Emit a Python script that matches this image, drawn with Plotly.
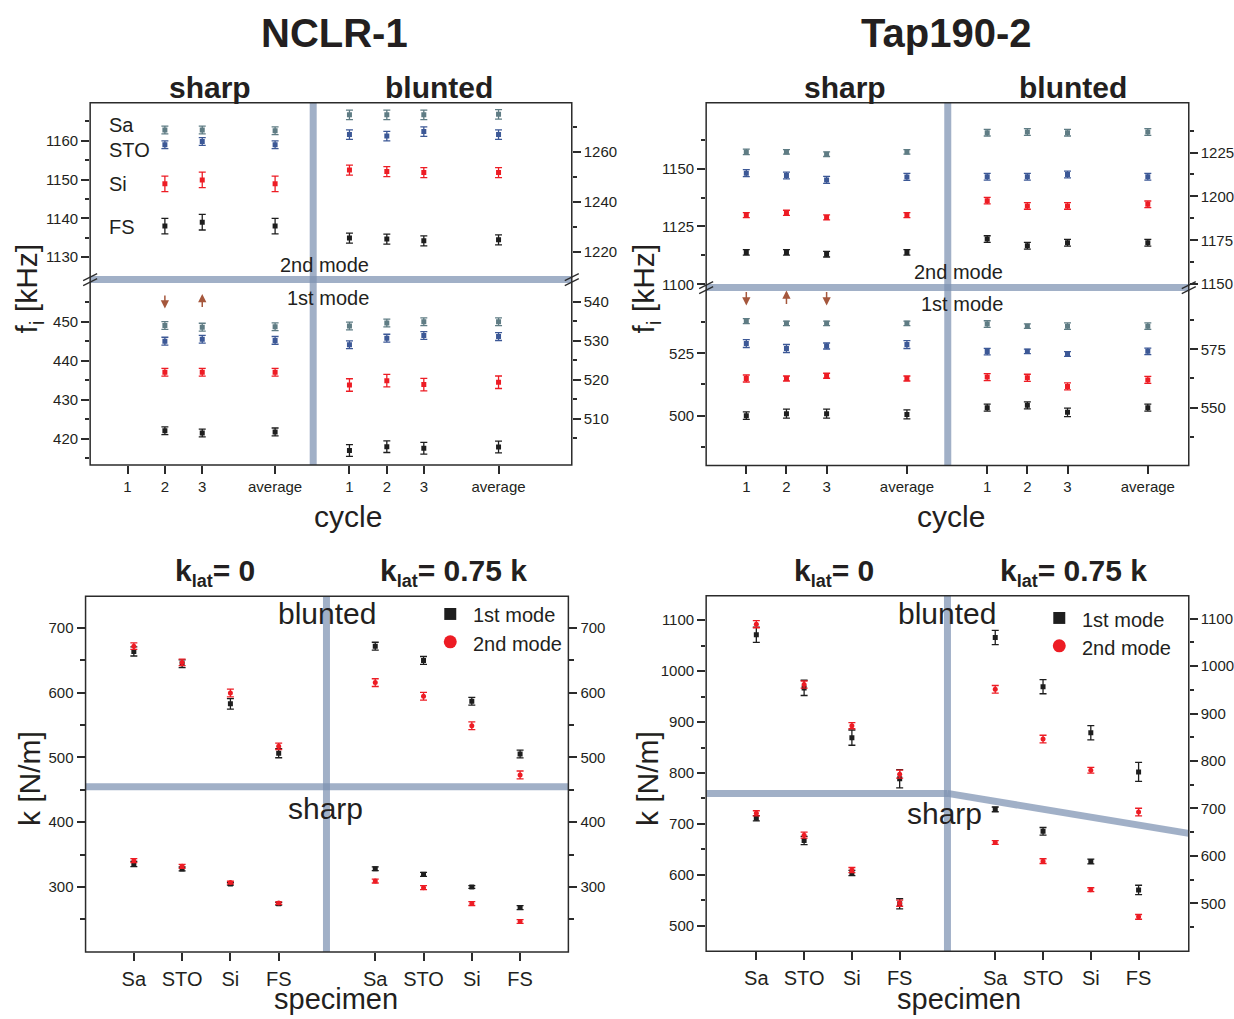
import plotly.graph_objects as go

W, H = 1234, 1019
FONT = "Liberation Sans, Arial, Helvetica, sans-serif"
TXT = "#231f20"
AX = "#2b2b2b"
DIV = "rgba(125,146,177,0.72)"
ARROW = "#a5573c"

# ---------------- data ----------------
SPECIMENS = ["Sa", "STO", "Si", "FS"]
CYCLES = ["1", "2", "3", "average"]
SPEC_COLORS = ["#5f7c84", "#3c5896", "#ed1c24", "#1e1e1e"]
MODE_COLORS = ["#1e1e1e", "#ed1c24"]
MODE_SYMBOLS = ["square", "circle"]
MODE_NAMES = ["1st mode", "2nd mode"]

# NCLR-1 resonance frequencies [kHz]; rows Sa, STO, Si, FS; cols cycle 1, 2, 3, average
nclr_m2_sharp = [[None, 1162.8, 1162.8, 1162.6], [None, 1159.0, 1159.8, 1159.0],
                 [None, 1148.9, 1149.9, 1148.9], [None, 1138.0, 1139.0, 1138.0]]
nclr_m2_sharp_err = [[0, 1.0, 1.0, 1.0], [0, 1.0, 1.0, 1.0], [0, 2.0, 2.0, 2.0], [0, 2.0, 2.0, 2.0]]
nclr_m2_blunt = [[1274.9, 1274.9, 1274.9, 1275.1], [1267.0, 1266.4, 1268.2, 1267.0],
                 [1252.8, 1252.2, 1251.8, 1251.8], [1225.6, 1225.2, 1224.5, 1224.9]]
nclr_m2_blunt_err = [[1.9, 1.9, 1.9, 1.9], [1.9, 1.9, 1.9, 1.9], [2.0, 2.0, 2.0, 2.0], [2.0, 2.0, 2.0, 2.0]]
nclr_m1_sharp = [[None, 449.0, 448.6, 448.7], [None, 445.0, 445.5, 445.2],
                 [None, 437.0, 437.0, 437.0], [None, 422.0, 421.4, 421.7]]
nclr_m1_sharp_err = [[0, 1.0, 1.0, 1.0], [0, 1.0, 1.0, 1.0], [0, 1.0, 1.0, 1.0], [0, 1.0, 1.0, 1.0]]
nclr_m1_blunt = [[533.8, 534.6, 534.9, 534.9], [529.0, 530.7, 531.4, 531.1],
                 [518.7, 519.8, 518.8, 519.4], [501.9, 502.9, 502.5, 502.8]]
nclr_m1_blunt_err = [[1.0, 1.0, 1.0, 1.0], [1.0, 1.0, 1.0, 1.0], [1.6, 1.6, 1.6, 1.6], [1.5, 1.5, 1.5, 1.5]]

# Tap190-2 resonance frequencies [kHz]
tap_m2_sharp = [[1157.2, 1157.2, 1156.2, 1157.2], [1148.0, 1147.0, 1145.1, 1146.4],
                [1129.9, 1130.9, 1128.9, 1129.9], [1113.8, 1113.8, 1113.0, 1113.8]]
tap_m2_sharp_err = [[1.2, 1.0, 1.0, 1.0], [1.5, 1.5, 1.5, 1.5], [1.1, 1.1, 1.1, 1.1], [1.2, 1.2, 1.2, 1.2]]
tap_m2_blunt = [[1236.3, 1236.7, 1236.3, 1236.7], [1211.2, 1211.2, 1212.5, 1211.2],
                [1197.6, 1194.6, 1194.6, 1195.5], [1175.7, 1171.9, 1173.6, 1173.6]]
tap_m2_blunt_err = [[1.9, 1.9, 1.9, 1.9], [1.9, 1.9, 1.9, 1.9], [1.9, 1.9, 1.9, 1.9], [1.9, 1.9, 1.9, 1.9]]
tap_m1_sharp = [[537.9, 537.0, 537.0, 537.0], [528.9, 526.9, 527.9, 528.5],
                [514.9, 514.9, 516.0, 514.9], [500.0, 500.8, 500.8, 500.5]]
tap_m1_sharp_err = [[1.0, 0.9, 0.9, 0.9], [1.6, 1.6, 1.2, 1.6], [1.4, 1.0, 1.0, 1.0], [1.5, 1.8, 1.8, 1.8]]
tap_m1_blunt = [[585.8, 584.9, 584.9, 584.9], [574.0, 574.1, 573.0, 574.1],
                [563.1, 562.8, 559.1, 561.9], [550.0, 551.0, 548.0, 550.0]]
tap_m1_blunt_err = [[1.4, 1.0, 1.4, 1.4], [1.4, 1.0, 1.0, 1.4], [1.5, 1.5, 1.5, 1.5], [1.5, 1.5, 1.8, 1.5]]

# arrows marking cycles (cycle index, +1 = up, -1 = down)
nclr_arrows = [(2, -1), (3, 1)]
tap_arrows = [(1, -1), (2, 1), (3, -1)]

# spring constants k [N/m]; order Sa, STO, Si, FS
nclr_k0_blunt_m1 = [663.6, 644.7, 582.7, 506.5]
nclr_k0_blunt_m1_err = [7, 6, 8, 7]
nclr_k0_blunt_m2 = [671.8, 646.7, 599.6, 517.2]
nclr_k0_blunt_m2_err = [5, 5, 6, 5]
nclr_k0_sharp_m1 = [335.4, 327.8, 304.7, 274.0]
nclr_k0_sharp_m1_err = [4, 3, 2, 2]
nclr_k0_sharp_m2 = [340.6, 331.8, 306.8, 275.0]
nclr_k0_sharp_m2_err = [3, 3, 2, 2]
nclr_k75_blunt_m1 = [671.8, 649.8, 586.8, 505.3]
nclr_k75_blunt_m1_err = [6, 6, 6, 6]
nclr_k75_blunt_m2 = [615.5, 594.5, 548.9, 473.0]
nclr_k75_blunt_m2_err = [6, 6, 6, 6]
nclr_k75_sharp_m1 = [328.1, 319.4, 299.9, 268.1]
nclr_k75_sharp_m1_err = [3, 3, 2, 3]
nclr_k75_sharp_m2 = [309.1, 298.9, 274.3, 246.6]
nclr_k75_sharp_m2_err = [3, 3, 3, 3]

tap_k0_blunt_m1 = [1071.3, 967.1, 869.4, 788.6]
tap_k0_blunt_m1_err = [15, 15, 15, 18]
tap_k0_blunt_m2 = [1092.2, 973.6, 892.8, 797.7]
tap_k0_blunt_m2_err = [7, 7, 6, 8]
tap_k0_sharp_m1 = [711.1, 667.4, 603.6, 543.0]
tap_k0_sharp_m1_err = [5, 8, 5, 10]
tap_k0_sharp_m2 = [720.8, 677.9, 609.4, 544.3]
tap_k0_sharp_m2_err = [5, 6, 5, 6]
tap_k75_blunt_m1 = [1060.1, 956.6, 859.4, 776.9]
tap_k75_blunt_m1_err = [15, 15, 15, 20]
tap_k75_blunt_m2 = [951.0, 846.2, 780.4, 692.3]
tap_k75_blunt_m2_err = [8, 8, 6, 8]
tap_k75_sharp_m1 = [697.9, 651.7, 588.1, 528.0]
tap_k75_sharp_m1_err = [5, 8, 5, 10]
tap_k75_sharp_m2 = [628.0, 588.8, 528.7, 471.3]
tap_k75_sharp_m2_err = [4, 5, 4, 5]

# ---------------- category positions on the axes ----------------
NCLR_X_SHARP = [1, 2, 3, 4.95]
NCLR_X_BLUNT = [6.94, 7.94, 8.93, 10.93]
TAP_X_SHARP = [1, 2, 3, 5]
TAP_X_BLUNT = [7, 8, 9, 11]
K_X_LEFT = [1, 2, 3, 4]
K_X_RIGHT = [6, 7, 8, 9]


def fx(p):
    return p / W


def fy(p):
    return 1 - p / H


fig = go.Figure()


def add_err(xa, ya, xs, ys, errs, color, symbol="square"):
    fig.add_trace(go.Scatter(
        x=xs, y=ys, xaxis=xa, yaxis=ya, mode="markers",
        marker=dict(color=color, size=5, symbol=symbol, line=dict(width=0)),
        error_y=dict(type="data", array=errs, visible=True, color=color, thickness=1.3, width=3.5),
        showlegend=False, hoverinfo="x+y"))


# top panels
for xa, (yul, yll, yur, ylr), xs_s, xs_b, sets in [
    ("x", ("y", "y2", "y3", "y4"), NCLR_X_SHARP, NCLR_X_BLUNT,
     (nclr_m2_sharp, nclr_m2_sharp_err, nclr_m2_blunt, nclr_m2_blunt_err,
      nclr_m1_sharp, nclr_m1_sharp_err, nclr_m1_blunt, nclr_m1_blunt_err)),
    ("x2", ("y5", "y6", "y7", "y8"), TAP_X_SHARP, TAP_X_BLUNT,
     (tap_m2_sharp, tap_m2_sharp_err, tap_m2_blunt, tap_m2_blunt_err,
      tap_m1_sharp, tap_m1_sharp_err, tap_m1_blunt, tap_m1_blunt_err)),
]:
    m2s, m2se, m2b, m2be, m1s, m1se, m1b, m1be = sets
    for i, col in enumerate(SPEC_COLORS):
        add_err(xa, yul, xs_s, m2s[i], m2se[i], col)
        add_err(xa, yur, xs_b, m2b[i], m2be[i], col)
        add_err(xa, yll, xs_s, m1s[i], m1se[i], col)
        add_err(xa, ylr, xs_b, m1b[i], m1be[i], col)

# bottom panels
for xa, yl, yr, sets in [
    ("x3", "y9", "y10", [
        (nclr_k0_blunt_m1, nclr_k0_blunt_m1_err, nclr_k0_sharp_m1, nclr_k0_sharp_m1_err,
         nclr_k75_blunt_m1, nclr_k75_blunt_m1_err, nclr_k75_sharp_m1, nclr_k75_sharp_m1_err),
        (nclr_k0_blunt_m2, nclr_k0_blunt_m2_err, nclr_k0_sharp_m2, nclr_k0_sharp_m2_err,
         nclr_k75_blunt_m2, nclr_k75_blunt_m2_err, nclr_k75_sharp_m2, nclr_k75_sharp_m2_err)]),
    ("x4", "y11", "y12", [
        (tap_k0_blunt_m1, tap_k0_blunt_m1_err, tap_k0_sharp_m1, tap_k0_sharp_m1_err,
         tap_k75_blunt_m1, tap_k75_blunt_m1_err, tap_k75_sharp_m1, tap_k75_sharp_m1_err),
        (tap_k0_blunt_m2, tap_k0_blunt_m2_err, tap_k0_sharp_m2, tap_k0_sharp_m2_err,
         tap_k75_blunt_m2, tap_k75_blunt_m2_err, tap_k75_sharp_m2, tap_k75_sharp_m2_err)]),
]:
    for m, s in enumerate(sets):
        b0, b0e, s0, s0e, b7, b7e, s7, s7e = s
        col, sym = MODE_COLORS[m], MODE_SYMBOLS[m]
        add_err(xa, yl, K_X_LEFT, b0, b0e, col, sym)
        add_err(xa, yl, K_X_LEFT, s0, s0e, col, sym)
        add_err(xa, yr, K_X_RIGHT, b7, b7e, col, sym)
        add_err(xa, yr, K_X_RIGHT, s7, s7e, col, sym)

# ---------------- axes ----------------
TICKFONT = dict(family=FONT, size=15, color=TXT)


def xax(dom, anchor, rng, tickvals, ticktext, size=15, standoff=None):
    d = dict(domain=[fx(dom[0]), fx(dom[1])], anchor=anchor, range=rng,
             tickmode="array", tickvals=tickvals, ticktext=ticktext,
             ticks="outside", ticklen=8, tickwidth=1.5, tickcolor=AX,
             showgrid=False, zeroline=False, showline=False, fixedrange=True,
             tickfont=dict(family=FONT, size=size, color=TXT))
    if standoff is not None:
        d["ticklabelstandoff"] = standoff
    return d


def yax(rng, ticks, minor, anchor, dom=None, side="left", overlaying=None):
    d = dict(range=rng, tickmode="array", tickvals=ticks, ticktext=[str(t) for t in ticks],
             ticks="outside", ticklen=8, tickwidth=1.5, tickcolor=AX,
             minor=dict(tickmode="array", tickvals=minor, ticks="outside", ticklen=4.5,
                        tickwidth=1.5, tickcolor=AX, showgrid=False),
             showgrid=False, zeroline=False, showline=False, side=side, anchor=anchor,
             fixedrange=True, tickfont=TICKFONT)
    if overlaying:
        d["overlaying"] = overlaying
    else:
        d["domain"] = [fy(dom[0]), fy(dom[1])]
    return d


layout_axes = dict(
    xaxis=xax((90.3, 572.7), "y2", [0, 12.89], NCLR_X_SHARP + NCLR_X_BLUNT, CYCLES + CYCLES),
    yaxis=yax([1124.2, 1169.8], [1130, 1140, 1150, 1160], [1135, 1145, 1155, 1165], "x", dom=(281, 103.3)),
    yaxis2=yax([413.2, 460.8], [420, 430, 440, 450], [415, 425, 435, 445, 455], "x", dom=(467.3, 281)),
    yaxis3=yax([1209.0, 1279.7], [1220, 1240, 1260], [1230, 1250, 1270], "x", side="right", overlaying="y"),
    yaxis4=yax([498.2, 545.7], [510, 520, 530, 540], [505, 515, 525, 535], "x", side="right", overlaying="y2"),
    xaxis2=xax((707.3, 1190.7), "y6", [0, 12.02], TAP_X_SHARP + TAP_X_BLUNT, CYCLES + CYCLES),
    yaxis5=yax([1098.6, 1178.4], [1100, 1125, 1150], [1112.5, 1137.5, 1162.5], "x2", dom=(289, 103.3)),
    yaxis6=yax([480.1, 551.3], [500, 525], [487.5, 512.5, 537.5], "x2", dom=(467.7, 289)),
    yaxis7=yax([1148.1, 1253.3], [1150, 1175, 1200, 1225], [1162.5, 1187.5, 1212.5, 1237.5], "x2",
               side="right", overlaying="y5"),
    yaxis8=yax([525.3, 601.4], [550, 575], [537.5, 562.5, 587.5], "x2", side="right", overlaying="y6"),
    xaxis3=xax((85.7, 569.3), "y9", [0, 10], K_X_LEFT + K_X_RIGHT, SPECIMENS + SPECIMENS, size=20, standoff=1),
    yaxis9=yax([199.5, 748.7], [300, 400, 500, 600, 700], [250, 350, 450, 550, 650], "x3", dom=(956.7, 599.3)),
    yaxis10=yax([199.5, 748.7], [300, 400, 500, 600, 700], [250, 350, 450, 550, 650], "x3",
                side="right", overlaying="y9"),
    xaxis4=xax((707.3, 1190.7), "y11", [-0.05, 10.05], K_X_LEFT + K_X_RIGHT, SPECIMENS + SPECIMENS,
               size=20, standoff=1),
    yaxis11=yax([449.8, 1148], [500, 600, 700, 800, 900, 1000, 1100],
                [550, 650, 750, 850, 950, 1050], "x4", dom=(956, 598.7)),
    yaxis12=yax([398.7, 1148.2], [500, 600, 700, 800, 900, 1000, 1100],
                [450, 550, 650, 750, 850, 950, 1050], "x4", side="right", overlaying="y11"),
)

# ---------------- shapes ----------------
shapes = []


def pline(x0, y0, x1, y1, color=AX, width=1.5, layer="above"):
    shapes.append(dict(type="line", xref="paper", yref="paper", x0=fx(x0), y0=fy(y0), x1=fx(x1), y1=fy(y1),
                       line=dict(color=color, width=width), layer=layer))


def prect(x0, y0, x1, y1, color=AX, width=1.5, layer="above"):
    shapes.append(dict(type="rect", xref="paper", yref="paper", x0=fx(x0), y0=fy(y0), x1=fx(x1), y1=fy(y1),
                       line=dict(color=color, width=width), layer=layer))


def brk(cx, cy):
    for yo in (-2.5, 2.5):
        pline(cx - 7, cy + yo + 3.5, cx + 7, cy + yo - 3.5, width=1.3)


# dividers
pline(90.3, 281, 572.7, 281, DIV, 7, "below")
pline(313.7, 103.3, 313.7, 467.3, DIV, 7, "below")
pline(707.3, 289, 1190.7, 289, DIV, 7, "below")
pline(949.3, 103.3, 949.3, 467.7, DIV, 7, "below")
pline(85.7, 790.7, 569.3, 790.7, DIV, 7, "below")
pline(327, 599.3, 327, 956.7, DIV, 7, "below")
pline(707.3, 797.3, 949, 797.3, DIV, 7, "below")
pline(949, 797.3, 1190.7, 837.5, DIV, 7, "below")
pline(949, 598.7, 949, 956, DIV, 7, "below")

# frames
prect(90.3, 103.3, 572.7, 467.3)
prect(707.3, 103.3, 1190.7, 467.7)
prect(85.7, 599.3, 569.3, 956.7)
prect(707.3, 598.7, 1190.7, 956)

# axis breaks
brk(90.3, 281)
brk(572.7, 281)
brk(707.3, 289)
brk(1190.7, 289)

# legend glyphs
for (sx, sy), (cx, cy) in [((451, 617), (451, 645)), ((1061, 621), (1061, 649))]:
    shapes.append(dict(type="rect", xref="paper", yref="paper", x0=fx(sx - 6), x1=fx(sx + 6),
                       y0=fy(sy + 6), y1=fy(sy - 6), fillcolor=MODE_COLORS[0], line=dict(width=0)))
    shapes.append(dict(type="circle", xref="paper", yref="paper", x0=fx(cx - 6.5), x1=fx(cx + 6.5),
                       y0=fy(cy + 6.5), y1=fy(cy - 6.5), fillcolor=MODE_COLORS[1], line=dict(width=0)))

# ---------------- annotations ----------------
ann = []


def text(t, x, y, size, xanchor="center", bold=False, angle=0):
    ann.append(dict(text=f"<b>{t}</b>" if bold else t, x=fx(x), y=fy(y), xref="paper", yref="paper",
                    xanchor=xanchor, yanchor="middle", showarrow=False, textangle=angle,
                    font=dict(family=FONT, size=size, color=TXT)))


KLAT = "k<sub><span style='font-size:18px'>lat</span></sub>"

text("NCLR-1", 335, 33, 40, bold=True)
text("Tap190-2", 947.5, 33, 40, bold=True)
text("sharp", 210, 88, 30, bold=True)
text("blunted", 440, 88, 30, bold=True)
text("sharp", 846, 88, 30, bold=True)
text("blunted", 1075, 88, 30, bold=True)

for name, y in zip(SPECIMENS, [126, 151, 185, 228]):
    text(name, 107, y, 20, xanchor="left")

text("2nd mode", 278, 266, 20, xanchor="left")
text("1st mode", 285, 299, 20, xanchor="left")
text("2nd mode", 913, 273, 20, xanchor="left")
text("1st mode", 920, 306, 20, xanchor="left")

text("cycle", 349, 519, 30)
text("cycle", 953, 519, 30)
text("f<sub>i</sub> [kHz]", 29, 290, 30, angle=-90)
text("f<sub>i</sub> [kHz]", 647, 290, 30, angle=-90)

text(KLAT + "= 0", 215, 575, 30, bold=True)
text(KLAT + "= 0.75 k", 454, 575, 30, bold=True)
text(KLAT + "= 0", 835, 575, 30, bold=True)
text(KLAT + "= 0.75 k", 1075, 575, 30, bold=True)

text("blunted", 328, 617, 30)
text("sharp", 326, 812, 30)
text("blunted", 949, 617, 30)
text("sharp", 946, 818, 30)

text("k [N/m]", 29, 782, 30, angle=-90)
text("k [N/m]", 648, 782, 30, angle=-90)
text("specimen", 337, 1004, 29)
text("specimen", 961, 1004, 29)

text(MODE_NAMES[0], 472, 618, 20, xanchor="left")
text(MODE_NAMES[1], 472, 647, 20, xanchor="left")
text(MODE_NAMES[0], 1082, 623, 20, xanchor="left")
text(MODE_NAMES[1], 1082, 651, 20, xanchor="left")

# cycle arrows
for xa, xs, arrows, ytop, ybot in [("x", NCLR_X_SHARP, nclr_arrows, 295.5, 310),
                                   ("x2", TAP_X_SHARP, tap_arrows, 292, 307)]:
    for cyc, direction in arrows:
        head = ybot if direction < 0 else ytop
        tail_off = (ytop - ybot) if direction < 0 else (ybot - ytop)
        ann.append(dict(text="", x=xs[cyc - 1], y=fy(head), xref=xa, yref="paper",
                        showarrow=True, ax=0, ay=tail_off, arrowhead=2, arrowsize=1.1,
                        arrowwidth=1.5, arrowcolor=ARROW, standoff=0, startstandoff=0))

fig.update_layout(
    width=W, height=H, margin=dict(l=0, r=0, t=0, b=0),
    paper_bgcolor="white", plot_bgcolor="rgba(0,0,0,0)",
    showlegend=False, shapes=shapes, annotations=ann,
    font=dict(family=FONT, color=TXT),
    **layout_axes,
)

fig.write_html("out.html")
